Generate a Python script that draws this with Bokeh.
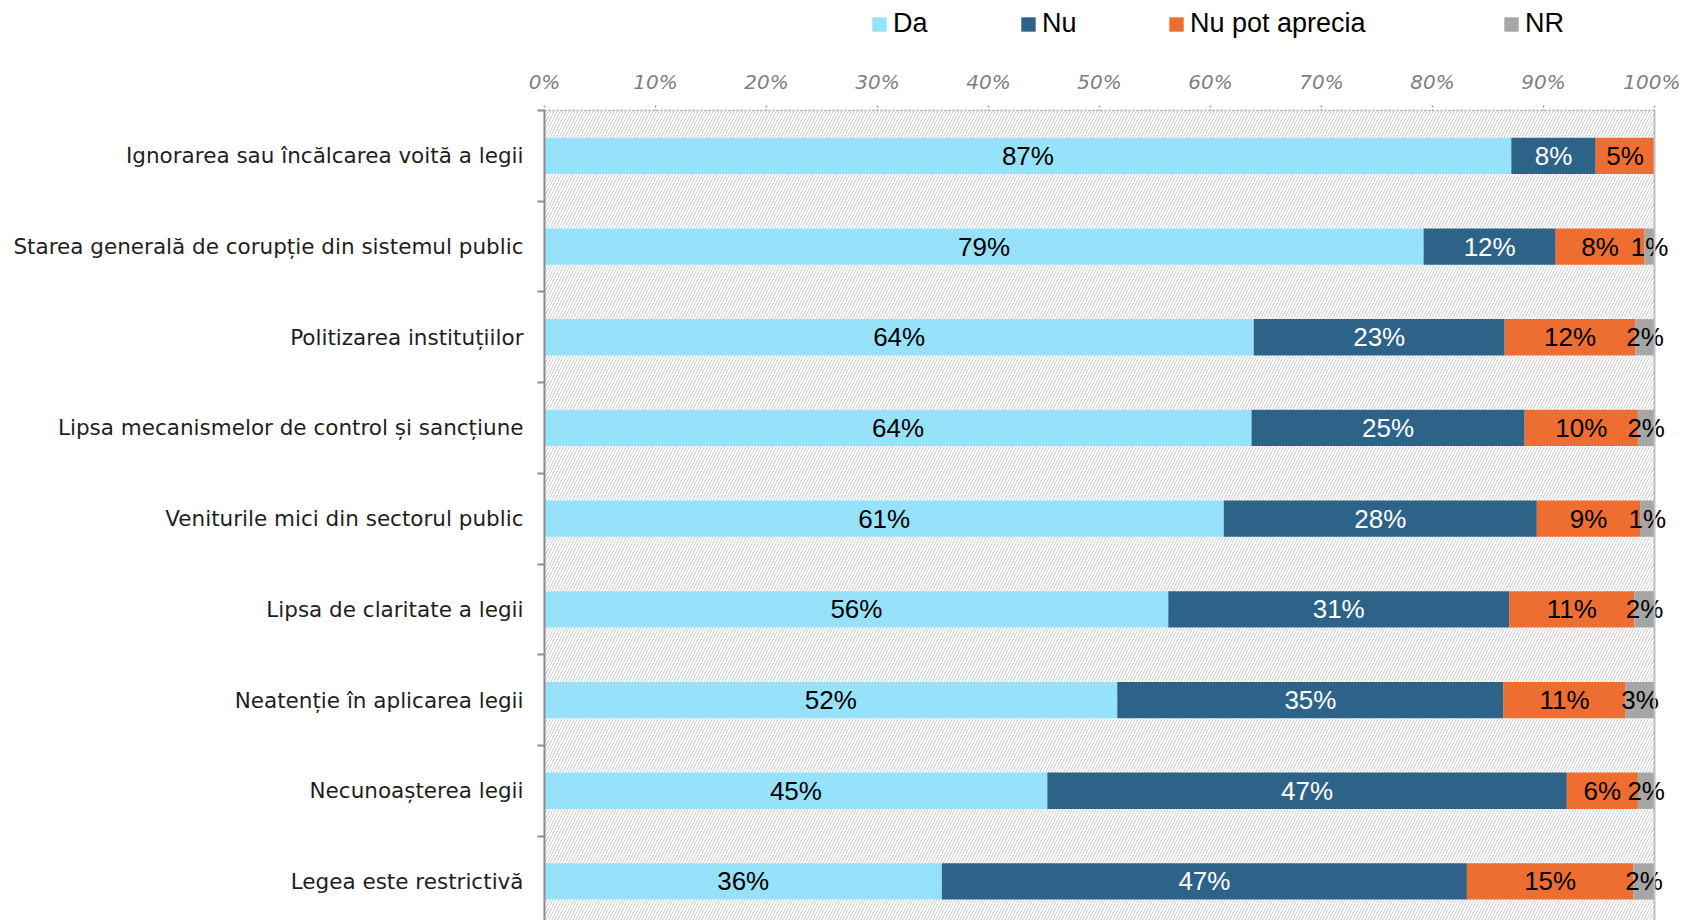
from bokeh.plotting import figure
from bokeh.layouts import column
from bokeh.models import (ColumnDataSource, Range1d, FixedTicker, Legend, LegendItem,
                          BoxAnnotation, Span, PrintfTickFormatter)
from bokeh.embed import file_html
from bokeh.resources import INLINE
from bokeh.core.properties import value

categories = [
    "Ignorarea sau încălcarea voită a legii",
    "Starea generală de corupție din sistemul public",
    "Politizarea instituțiilor",
    "Lipsa mecanismelor de control și sancțiune",
    "Veniturile mici din sectorul public",
    "Lipsa de claritate a legii",
    "Neatenție în aplicarea legii",
    "Necunoașterea legii",
    "Legea este restrictivă",
]
series = ["Da", "Nu", "Nu pot aprecia", "NR"]
da = [87.1, 79.2, 63.9, 63.7, 61.2, 56.2, 51.6, 45.3, 35.8]
nu = [7.6, 11.9, 22.6, 24.6, 28.2, 30.7, 34.8, 46.8, 47.3]
npa = [5.3, 8.0, 11.8, 10.2, 9.3, 11.3, 11.0, 6.4, 15.0]
nr = [0.0, 0.9, 1.7, 1.5, 1.3, 1.8, 2.6, 1.5, 1.9]
tick_values = [0, 10, 20, 30, 40, 50, 60, 70, 80, 90, 100]

colors = ["#97E2FB", "#2E6389", "#EE6E32", "#A6A6A6"]
label_colors = ["#000000", "#FFFFFF", "#000000", "#000000"]

W = 1680
LEG_H = 56
n = len(categories)
ypos = list(range(n))
src = ColumnDataSource(data={"y": ypos, "Da": da, "Nu": nu, "Nu pot aprecia": npa, "NR": nr})

# ---------- legend strip ----------
lp = figure(frame_width=W, frame_height=LEG_H, min_border=0,
            x_range=Range1d(0, 1), y_range=Range1d(0, 1),
            x_axis_location=None, y_axis_location=None,
            output_backend="svg", toolbar_location=None)
lp.outline_line_color = None
lp.xgrid.visible = False
lp.ygrid.visible = False
legend_x = [870, 1019, 1167, 1502]
for k, s in enumerate(series):
    # zero-size stand-in glyph: only its colour is used by the legend swatch
    dummy = lp.hbar(y=[0], left=[0], right=[0], height=[0], fill_color=colors[k], line_color=None)
    lg = Legend(items=[LegendItem(label=s, renderers=[dummy])],
                location=(legend_x[k], 17), orientation="horizontal",
                glyph_width=18, glyph_height=18, label_standoff=5,
                label_text_font="Liberation Sans", label_text_font_size="27px",
                label_text_color="#000000", padding=0, margin=0,
                border_line_color=None, background_fill_alpha=0)
    lp.add_layout(lg, "center")

# ---------- main chart ----------
FRAME_W = 1136
FRAME_H = 810
p = figure(frame_width=FRAME_W, frame_height=FRAME_H,
           min_border_left=544, min_border_right=0, min_border_top=110 - LEG_H, min_border_bottom=0,
           x_range=Range1d(0, 100 * FRAME_W / 1110), y_range=Range1d(-0.5 + FRAME_H / 90.7, -0.5),
           x_axis_location="above", output_backend="svg", toolbar_location=None)
p.outline_line_color = None
p.xgrid.visible = False
p.ygrid.visible = False
p.background_fill_color = "white"
p.border_fill_color = "white"

# hatched background up to 100%
p.add_layout(BoxAnnotation(right=100, fill_color=None, fill_alpha=0, line_color=None,
                           hatch_pattern="/", hatch_color="#D0D0D0", hatch_scale=6,
                           hatch_weight=1, hatch_alpha=1.0, level="underlay"))
p.add_layout(Span(location=100, dimension="height", line_color="#BFBFBF", line_width=2))

renderers = p.hbar_stack(series, y="y", height=0.4, color=colors, source=src, line_width=0)

# data labels
vals = [da, nu, npa, nr]
lx, ly, lt, lc = [], [], [], []
for i in range(n):
    left = 0.0
    for k, s in enumerate(series):
        v = vals[k][i]
        if v > 0:
            lx.append(left + v / 2)
            ly.append(i)
            lt.append(f"{v:.0f}%")
            lc.append(label_colors[k])
        left += v
lab = ColumnDataSource(data={"x": lx, "y": ly, "t": lt, "c": lc})
p.text(x="x", y="y", text="t", text_color="c", source=lab, text_align="center",
       text_baseline="middle", text_font=value("Liberation Sans"), text_font_size="26px")

# x axis (top)
xa = p.xaxis[0]
xa.bounds = (0, 100)
xa.ticker = FixedTicker(ticks=tick_values)
xa.formatter = PrintfTickFormatter(format="%d%%")
xa.major_label_text_font = "DejaVu Sans"
xa.major_label_text_font_style = "italic"
xa.major_label_text_font_size = "20px"
xa.major_label_text_color = "#7F7F7F"
xa.axis_line_color = "#A0A0A0"
xa.axis_line_width = 1.5
xa.axis_line_dash = "2 2"
xa.major_tick_line_color = "#A0A0A0"
xa.major_tick_line_dash = "2 2"
xa.major_tick_line_width = 1.5
xa.major_tick_out = 5
xa.major_tick_in = 0
xa.minor_tick_out = 0
xa.minor_tick_in = 0
xa.major_label_standoff = 12

# y axis (left)
ya = p.yaxis[0]
ya.ticker = FixedTicker(ticks=ypos, minor_ticks=[i - 0.5 for i in range(n + 1)])
ya.major_label_overrides = {i: c for i, c in enumerate(categories)}
ya.major_label_text_font = "DejaVu Sans"
ya.major_label_text_font_size = "21.5px"
ya.major_label_text_color = "#1E1E1E"
ya.axis_line_color = "#8C8C8C"
ya.axis_line_width = 2
ya.major_tick_out = 0
ya.major_tick_in = 0
ya.minor_tick_out = 7
ya.minor_tick_in = 0
ya.minor_tick_line_color = "#8C8C8C"
ya.minor_tick_line_width = 2
ya.major_label_standoff = 14

page = column(lp, p, spacing=0)
open("out.html", "w").write(file_html(page, INLINE))
